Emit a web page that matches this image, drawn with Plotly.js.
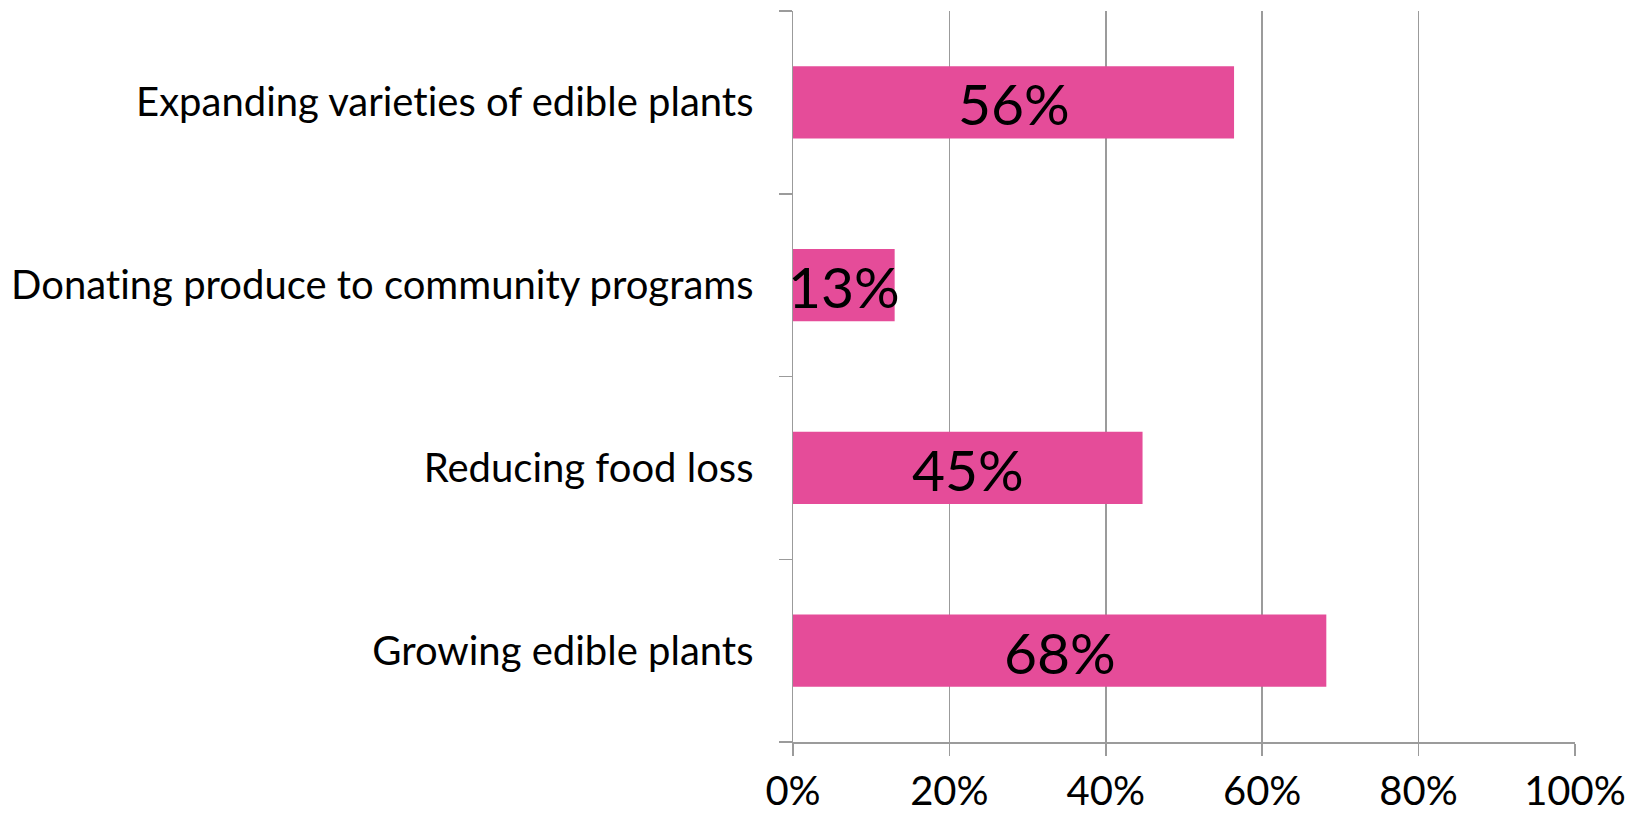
<!DOCTYPE html>
<html>
<head>
<meta charset="utf-8">
<script src="https://cdn.plot.ly/plotly-3.0.1.min.js"></script>
<style>
html,body{margin:0;padding:0;background:#fff;}
#chart{width:1640px;height:813px;}
svg text{font-variant-ligatures:none;font-feature-settings:"liga" 0;}
</style>
</head>
<body>
<div id="chart"></div>
<script>
// Data (bottom-to-top order, as in the source chart)
var categories = ["Growing edible plants", "Reducing food loss", "Donating produce to community programs", "Expanding varieties of edible plants"];
var values = [0.682, 0.447, 0.13, 0.564];
var xTickValues = [0, 0.2, 0.4, 0.6, 0.8, 1.0];
var xTickLabels = ["0%", "20%", "40%", "60%", "80%", "100%"];

var FONT = "Lato, 'Open Sans', sans-serif";

var trace = {
  type: "bar",
  orientation: "h",
  y: categories,
  x: values,
  marker: {color: "#E54C99", line: {width: 0}},
  hoverinfo: "none"
};

var annotations = values.map(function (v, i) {
  return {
    x: v / 2,
    y: categories[i],
    xref: "x",
    yref: "y",
    text: Math.round(v * 100) + "%",
    showarrow: false,
    font: {family: FONT, size: 57, color: "#000"},
    xanchor: "center",
    yanchor: "middle",
    yshift: -1
  };
});

var layout = {
  width: 1640,
  height: 813,
  margin: {l: 793, r: 65, t: 11, b: 71},
  paper_bgcolor: "#fff",
  plot_bgcolor: "#fff",
  showlegend: false,
  bargap: 0.606,
  font: {family: FONT, color: "#000"},
  xaxis: {
    range: [0, 1],
    tickmode: "array",
    tickvals: xTickValues,
    ticktext: xTickLabels,
    showgrid: true,
    gridcolor: "#9b9b9b",
    gridwidth: 1.5,
    zeroline: false,
    showline: true,
    linecolor: "#9b9b9b",
    linewidth: 1.5,
    ticks: "outside",
    ticklen: 12,
    tickwidth: 1.5,
    tickcolor: "#9b9b9b",
    ticklabelstandoff: 1,
    tickfont: {family: FONT, size: 40, color: "#000"},
    fixedrange: true
  },
  yaxis: {
    type: "category",
    showgrid: false,
    zeroline: false,
    showline: true,
    linecolor: "#9b9b9b",
    linewidth: 1.5,
    ticks: "outside",
    tickson: "boundaries",
    ticklen: 13,
    tickwidth: 1.5,
    tickcolor: "#9b9b9b",
    ticklabelstandoff: 30,
    tickfont: {family: FONT, size: 40, color: "#000"},
    fixedrange: true
  },
  annotations: annotations
};

Plotly.newPlot("chart", [trace], layout, {displayModeBar: false, staticPlot: true});
</script>
</body>
</html>
